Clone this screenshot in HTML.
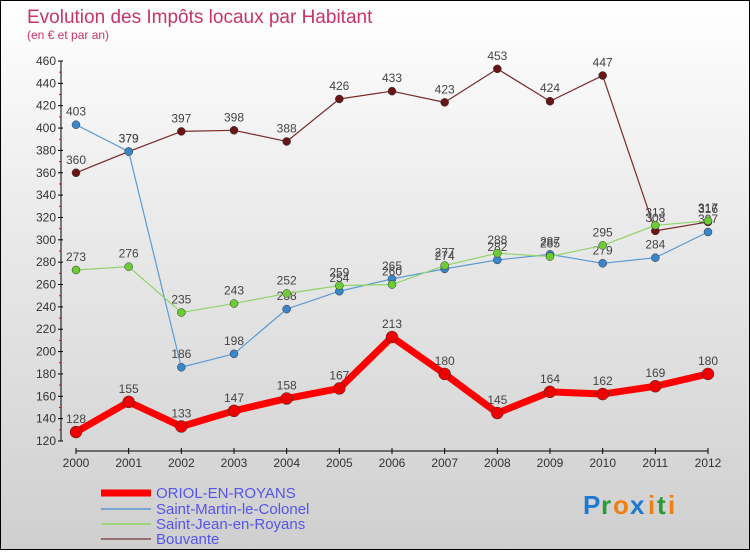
<!DOCTYPE html>
<html><head><meta charset="utf-8"><style>
html,body{margin:0;padding:0}
body{width:750px;height:550px;overflow:hidden;font-family:"Liberation Sans",sans-serif}
#wrap{position:relative;width:748px;height:548px;border:1px solid #000;background:linear-gradient(#ffffff 0%,#e8e8e8 45%,#cfcfcf 100%)}
</style></head><body>
<div id="wrap">
<svg id="chart" width="748" height="548" xmlns="http://www.w3.org/2000/svg">
<text x="26" y="22" font-size="19" fill="#c8336a">Evolution des Impôts locaux par Habitant</text>
<text x="26" y="38" font-size="12" fill="#c8336a">(en € et par an)</text>
<g id="axes"></g>
<g id="series"></g>
<g id="legend">
<line x1="100" y1="492" x2="150" y2="492" stroke="#f00" stroke-width="7"/>
<text x="155" y="497" font-size="15" fill="#5555ee">ORIOL-EN-ROYANS</text>
<line x1="100" y1="508" x2="150" y2="508" stroke="#7aa6cc" stroke-width="2"/>
<text x="155" y="513" font-size="15" fill="#5555ee">Saint-Martin-le-Colonel</text>
<line x1="100" y1="523" x2="150" y2="523" stroke="#9ed67a" stroke-width="2"/>
<text x="155" y="528" font-size="15" fill="#5555ee">Saint-Jean-en-Royans</text>
<line x1="100" y1="538" x2="150" y2="538" stroke="#957070" stroke-width="2"/>
<text x="155" y="543" font-size="15" fill="#5555ee">Bouvante</text>
</g>
<g font-size="26" font-weight="bold">
<text x="582" y="513" fill="#1e7ad0">P</text><text x="600" y="513" fill="#2a9a3a">r</text><text x="612" y="513" fill="#f08010">o</text><text x="629" y="513" fill="#1e7ad0">x</text><text x="647" y="513" fill="#f08010">i</text><text x="656" y="513" fill="#2a9a3a">t</text><text x="667" y="513" fill="#f08010">i</text>
</g>
</svg>
</div>
<script>
const years=["2000","2001","2002","2003","2004","2005","2006","2007","2008","2009","2010","2011","2012"];
const oriol=[128,155,133,147,158,167,213,180,145,164,162,169,180];
const saintMartin=[403,379,186,198,238,254,265,274,282,287,279,284,307];
const saintJean=[273,276,235,243,252,259,260,277,288,285,295,313,317];
const bouvante=[360,379,397,398,388,426,433,423,453,424,447,308,316];
const yTicks=[120,140,160,180,200,220,240,260,280,300,320,340,360,380,400,420,440,460];
const NS="http://www.w3.org/2000/svg";
const x0=75,x1=707,yMin=120,yMax=460,py0=440,py1=60;
function xs(i){return x0+(x1-x0)*i/(years.length-1);}
function ys(v){return py0-(v-yMin)/(yMax-yMin)*(py0-py1);}
function mk(t,a,p){const e=document.createElementNS(NS,t);for(const k in a)e.setAttribute(k,a[k]);p.appendChild(e);return e;}
const axes=document.getElementById('axes');
let ax=mk('line',{x1:x0-15,y1:py1,x2:x0-15,y2:py0,stroke:'#000','stroke-width':1},axes);


yTicks.forEach((v,i)=>{
  const y=ys(v);
  mk('line',{x1:x0-18,y1:y,x2:x0-13,y2:y,stroke:'#000'},axes);
  if(i<yTicks.length-1) mk('line',{x1:x0-17,y1:ys(v+10),x2:x0-15,y2:ys(v+10),stroke:'#e00'},axes);
  const t=mk('text',{x:x0-20,y:y+4,'font-size':12,fill:'#333','text-anchor':'end'},axes);
  t.textContent=v;
  
  
});
let xa=mk('line',{x1:x0,y1:450,x2:x1,y2:450,stroke:'#000','stroke-width':1},axes);


years.forEach((yr,i)=>{
  mk('line',{x1:xs(i),y1:447,x2:xs(i),y2:453,stroke:'#000'},axes);
  const t=mk('text',{x:xs(i),y:466,'font-size':12,fill:'#333','text-anchor':'middle'},axes);
  t.textContent=yr;
  
  
});
const ser=document.getElementById('series');
function draw(data,color,pt,w,r,name){
  const g=mk('g',{},ser);
  
  
  const p=mk('polyline',{points:data.map((v,i)=>xs(i)+','+ys(v)).join(' '),fill:'none',stroke:color,'stroke-width':w,'stroke-linejoin':'round'},g);
  
  
  data.forEach((v,i)=>{
    const c=mk('circle',{cx:xs(i),cy:ys(v),r:r,fill:pt,stroke:'#333','stroke-width':0.5},g);
    
    
    const t=mk('text',{x:xs(i),y:ys(v)-9,'font-size':12,fill:'#444','text-anchor':'middle'},g);
    t.textContent=v;
    
    
  });
}
draw(bouvante,'#7a2a2a','#6a1515',1.2,4,'bouvante');
draw(saintMartin,'#5a9bd4','#3a85cc',1.2,4,'saint-martin');
draw(saintJean,'#8fd46a','#6ccc35',1.2,4,'saint-jean');
draw(oriol,'#ff0000','#ee0000',7,6,'oriol');
</script>
</body></html>
